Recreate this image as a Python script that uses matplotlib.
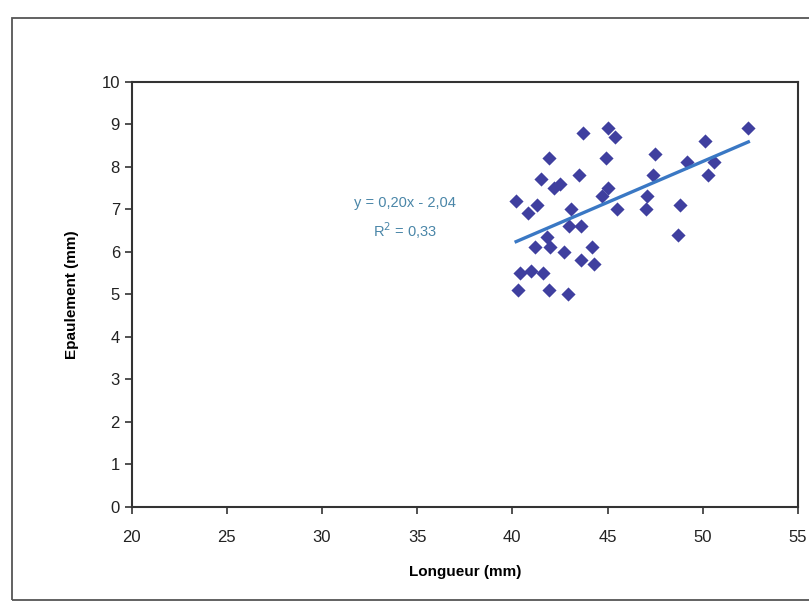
import numpy as np
import matplotlib.pyplot as plt
from matplotlib.patches import Rectangle

# Longueur (mm) / Epaulement (mm)
longueur = [43.7, 45.0, 45.4, 41.9, 44.9, 43.5, 41.5, 42.2, 42.5, 45.0,
            44.7, 40.2, 40.8, 41.3, 43.1, 45.5, 43.0, 43.6, 41.2, 41.8,
            42.0, 42.7, 44.2, 43.6, 44.3, 40.4, 41.0, 41.6, 40.3, 41.9,
            42.9, 52.4, 50.1, 47.5, 49.2, 50.6, 50.3, 47.4, 47.1, 47.0,
            48.8, 48.7]
epaulement = [8.8, 8.9, 8.7, 8.2, 8.2, 7.8, 7.7, 7.5, 7.6, 7.5,
              7.3, 7.2, 6.9, 7.1, 7.0, 7.0, 6.6, 6.6, 6.1, 6.35,
              6.1, 6.0, 6.1, 5.8, 5.7, 5.5, 5.55, 5.5, 5.1, 5.1,
              5.0, 8.9, 8.6, 8.3, 8.1, 8.1, 7.8, 7.8, 7.3, 7.0,
              7.1, 6.4]

x = np.array(longueur)
y = np.array(epaulement)
slope, intercept = np.polyfit(x, y, 1)

plt.rcParams['font.family'] = ['Liberation Sans', 'DejaVu Sans']

W, H = 809, 614
fig = plt.figure(figsize=(W / 100, H / 100), dpi=100)
ax = fig.add_axes([0.1628, 0.1748, 0.8234, 0.6921])

ax.scatter(x, y, marker='D', s=52, color='#3f3f9f', zorder=3, linewidths=0)

xl = np.array([x.min(), x.max()])
ax.plot(xl, slope * xl + intercept, color='#3a78c4', lw=2.4, zorder=4)

# equation label, placed in pixel coordinates of the figure
fig.text(405 / W, 1 - 203 / H, 'y = 0,20x - 2,04', ha='center', va='center',
         fontsize=10.5, color='#4a86a8')
fig.text(405 / W, 1 - 231 / H, 'R$^2$ = 0,33', ha='center', va='center',
         fontsize=10.5, color='#4a86a8')

ax.set_xlim(20, 55)
ax.set_ylim(0, 10)
ax.set_xticks(np.arange(20, 56, 5))
ax.set_yticks(np.arange(0, 11, 1))
ax.tick_params(direction='out', length=5, width=1.2, colors='#333333',
               labelsize=12, labelcolor='#222222')
ax.tick_params(axis='x', pad=12)
for sp in ax.spines.values():
    sp.set_linewidth(1.5)
    sp.set_color('#333333')

ax.set_xlabel('Longueur (mm)', fontsize=11, fontweight='bold', labelpad=14)
ax.set_ylabel('Epaulement (mm)', fontsize=11, fontweight='bold', labelpad=16)

# outer chart frame
fig.patches.append(Rectangle((12 / W, 1 - 600 / H), 800 / W, 582 / H,
                             transform=fig.transFigure, fill=False,
                             edgecolor='#555555', lw=1.3))

fig.savefig('out.png', dpi=100)
